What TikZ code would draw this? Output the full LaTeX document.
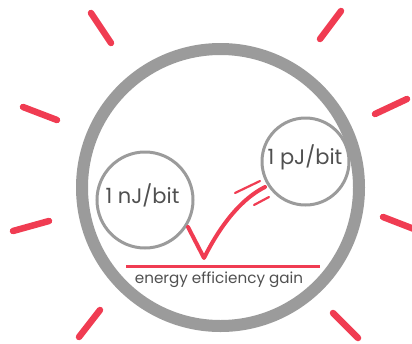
\documentclass[tikz,border=0pt]{standalone}
\usepackage{fontspec}
\setmainfont{Poppins}
\definecolor{rayred}{HTML}{F03C52}
\definecolor{ringgray}{HTML}{9B9B9B}
\definecolor{txtgray}{HTML}{505050}
\begin{document}
\begin{tikzpicture}[x=1pt,y=-1pt,
  ray/.style={rayred,line width=6.5pt,line cap=round},
  ring/.style={circle,draw=ringgray,line width=3pt,inner sep=0pt},
  lbl/.style={text=txtgray,inner sep=0pt,font=\fontsize{21}{21}\selectfont},
  captxt/.style={text=txtgray,inner sep=0pt,font=\fontsize{15.2}{15}\selectfont}]
\useasboundingbox (0,0) rectangle (412,343);
% sun rays
\draw[ray] (91,13) -- (111,43);
\draw[ray] (341,11) -- (320,39);
\draw[ray] (23,107) -- (57,120);
\draw[ray] (407,99) -- (375,114);
\draw[ray] (13,231) -- (49,221);
\draw[ray] (383,217) -- (414,229);
\draw[ray] (100,310) -- (79,337);
\draw[ray] (333,313) -- (358,338);
% big ring
\node[circle,draw=ringgray,line width=12pt,minimum size=277pt,inner sep=0pt] (sun) at (220.5,187.5) {};
% small circles
\node[ring,minimum size=96pt] (nj) at (145,200) {};
\node[lbl] (njt) at (142.5,195) {1 nJ/bit};
\node[ring,minimum size=87pt] (pj) at (305.5,161.5) {};
\node[lbl] (pjt) at (305,157) {1 pJ/bit};
% check mark
\coordinate (c1) at (188,227);
\coordinate (c2) at (204,258);
\coordinate (c3) at (265,187);
\draw[rayred,line width=4pt,line cap=round,line join=round] (c1) -- (c2) .. controls (222,222) and (243,198) .. (c3);
\coordinate (s1a) at (235,193); \coordinate (s1b) at (260,181);
\coordinate (s2a) at (254,205); \coordinate (s2b) at (269,197);
\draw[rayred,line width=2.2pt,line cap=round] (s1a) -- (s1b);
\draw[rayred,line width=2.2pt,line cap=round] (s2a) -- (s2b);
% base line and caption
\coordinate (b1) at (126,266);
\coordinate (b2) at (320,266);
\draw[rayred,line width=3pt] (b1) -- (b2);
\node[captxt] (gain) at (219,279.5) {energy efficiency gain};
\end{tikzpicture}
\end{document}
